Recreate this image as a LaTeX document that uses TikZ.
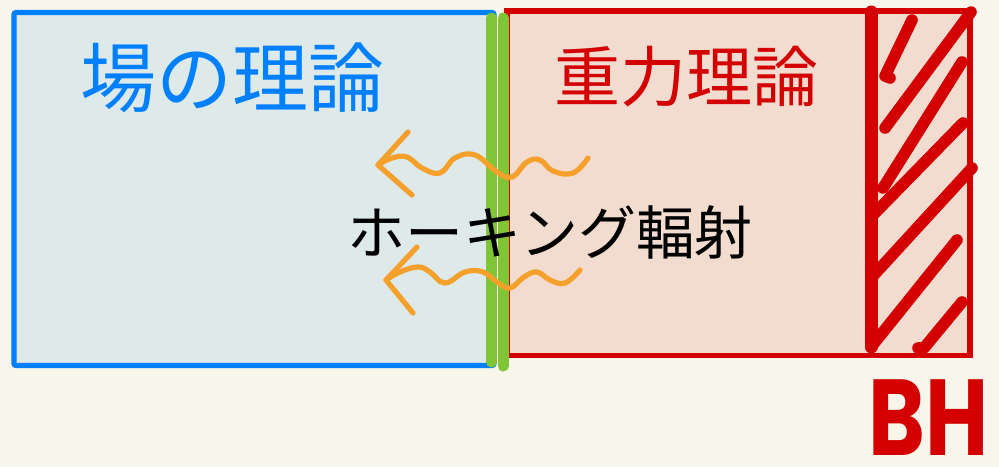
\documentclass[tikz,border=0pt]{standalone}
\usepackage{fontspec}
\newfontfamily\cjk{Noto Sans CJK JP}
\newfontfamily\bhfont{Poppins}
\definecolor{bgc}{HTML}{F8F6EA}
\definecolor{bluec}{HTML}{0080FF}
\definecolor{bluefill}{HTML}{DEE9E9}
\definecolor{redc}{HTML}{D40000}
\definecolor{redfill}{HTML}{F2DCD0}
\definecolor{greenc}{HTML}{80C535}
\definecolor{orangec}{HTML}{F5A02A}
\tikzset{
  hatch/.style={redc, line width=5.8pt, line cap=round, line join=round},
  wave/.style={orangec, line width=2.6pt, line cap=round, line join=round},
  label/.style={inner sep=0pt, anchor=center},
}
\begin{document}
\begin{tikzpicture}[x=0.5pt, y=-0.5pt]
\fill[bgc] (0,0) rectangle (999,467);
\useasboundingbox (0,0) rectangle (999,467);
% left box
\draw[bluec, fill=bluefill, line width=2.6pt, rounded corners=1pt] (14,12.5) rectangle (494,365.5);
% right box
\draw[redc, fill=redfill, line width=2.6pt] (507,11) rectangle (970,355.5);
% green boundary
\draw[greenc, line width=5.5pt, line cap=round] (491.5,18) -- (491.5,362);
\draw[greenc, line width=5.5pt, line cap=round] (503,18) -- (503,366);
% black hole hatching
\draw[hatch, line width=6.5pt] (871,12) -- (871,347);
\draw[hatch] (912,20) -- (885,76) -- (890,78);
\draw[hatch] (971,12) -- (885,128);
\draw[hatch] (962,62) -- (883,188);
\draw[hatch] (963,123) -- (873,215);
\draw[hatch] (972,168) -- (872,277);
\draw[hatch] (957,240) -- (871,347);
\draw[hatch] (962,302) -- (924,348) -- (918,348);
% texts
\node[label, text=bluec, font=\cjk\fontsize{38}{40}\selectfont] (field) at (232,78) {場の理論};
\node[label, text=redc, font=\cjk\fontsize{33}{36}\selectfont] (gravity) at (686,77) {重力理論};
\node[label, font=\cjk\fontsize{29}{32}\selectfont] (hawking) at (550,232) {ホーキング輻射};
% wavy arrows
\draw[wave] plot[smooth, tension=0.7] coordinates {(588,158) (573,173) (553,171) (540,160) (527,162) (512,177) (497,172) (475,155) (455,158) (440,173) (422,168) (407,157) (392,158) (378,165)};
\draw[wave] (408,132) -- (378,165) -- (412,195);
\draw[wave] plot[smooth, tension=0.7] coordinates {(580,270) (565,283) (550,280) (537,272) (524,277) (510,288) (497,282) (483,272) (465,272) (445,283) (430,272) (418,267) (400,272) (386,280)};
\draw[wave] (417,247) -- (386,280) -- (413,313);
% BH
\node[label, anchor=west, text=redc, font=\bhfont\bfseries\fontsize{54}{58}\selectfont] (bh) at (868,418) {\scalebox{0.8}[1]{BH}};
\end{tikzpicture}
\end{document}
